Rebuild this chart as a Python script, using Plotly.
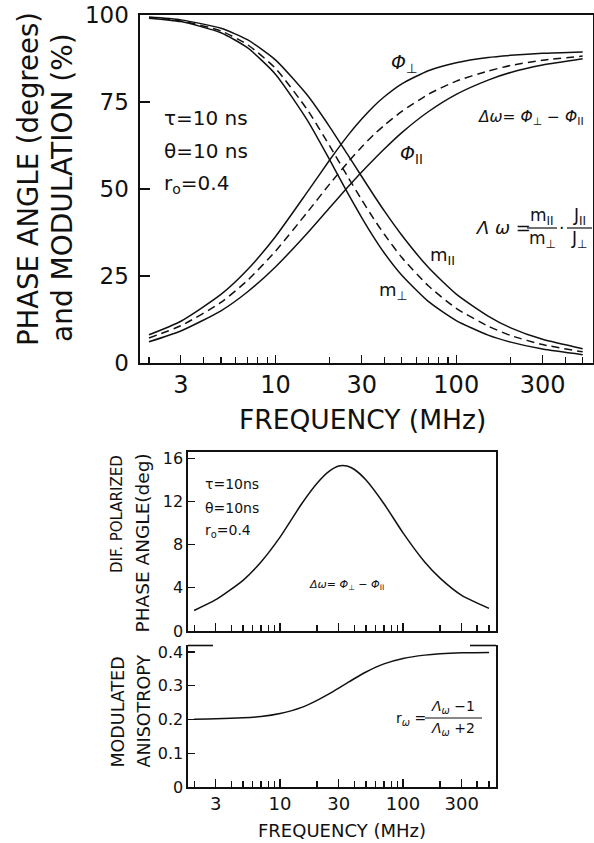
import plotly.graph_objects as go

W, H = 594, 843

# ---------------- data ----------------
freq = [2, 3, 5, 7, 10, 15, 20, 25, 30, 35, 40, 50, 70, 100, 150, 200, 300, 500]
phi_perp = [8.1, 12.0, 19.7, 26.8, 36.3, 49.1, 58.4, 65.2, 70.1, 73.8, 76.5, 80.2, 84.0, 86.3, 87.8, 88.4, 89.0, 89.4]
phi_par = [6.1, 9.2, 15.0, 20.4, 27.6, 37.3, 44.7, 50.4, 54.9, 58.5, 61.5, 66.2, 72.2, 77.2, 81.3, 83.5, 85.6, 87.4]
phi_avg = [7.2, 10.7, 17.4, 23.7, 32.1, 43.3, 51.5, 57.5, 62.1, 65.6, 68.3, 72.3, 77.2, 81.0, 83.9, 85.5, 87.0, 88.2]
mod_par = [99.4, 98.6, 96.2, 92.9, 87.1, 77.0, 67.8, 60.0, 53.6, 48.2, 43.7, 36.7, 27.5, 19.8, 13.5, 10.1, 6.8, 4.1]
mod_perp = [99.1, 98.1, 94.9, 90.6, 83.0, 69.8, 58.3, 49.0, 41.8, 36.1, 31.6, 25.2, 17.7, 12.2, 8.0, 6.0, 4.0, 2.4]
mod_avg = [99.2, 98.3, 95.4, 91.5, 84.7, 72.8, 62.3, 53.7, 46.9, 41.4, 37.0, 30.3, 22.2, 15.7, 10.6, 7.9, 5.3, 3.2]
dphase = [1.9, 2.9, 4.7, 6.4, 8.7, 11.8, 13.7, 14.8, 15.3, 15.3, 15.0, 14.0, 11.8, 9.1, 6.4, 4.9, 3.3, 2.1]
r_mod = [0.201, 0.202, 0.205, 0.209, 0.218, 0.236, 0.257, 0.276, 0.293, 0.308, 0.321, 0.341, 0.365, 0.381, 0.391, 0.395, 0.398, 0.399]

x_major = [3, 10, 30, 100, 300]
x_major_text = ["3", "10", "30", "100", "300"]
x_minor = [2, 4, 5, 6, 7, 8, 9, 20, 40, 50, 60, 70, 80, 90, 200, 400, 500]
y1_ticks = [0, 25, 50, 75, 100]
y2_ticks = [0, 4, 8, 12, 16]
y3_ticks = [0, 0.1, 0.2, 0.3, 0.4]
y3_text = ["0", "0.1", "0.2", "0.3", "0.4"]

FONT = "DejaVu Sans"
BLK = "#111111"


def px(x):
    return x / W


def py(y):
    return 1 - y / H


fig = go.Figure()

solid = dict(color=BLK, width=1.5, shape="spline", smoothing=0.6)
dashed = dict(color=BLK, width=1.5, dash="8px,5px", shape="spline", smoothing=0.6)

for ys, ln in [(phi_perp, solid), (phi_par, solid), (phi_avg, dashed),
               (mod_par, solid), (mod_perp, solid), (mod_avg, dashed)]:
    fig.add_trace(go.Scatter(x=freq, y=ys, mode="lines", line=ln,
                             xaxis="x", yaxis="y", showlegend=False, hoverinfo="skip"))

fig.add_trace(go.Scatter(x=freq, y=dphase, mode="lines", line=solid,
                         xaxis="x2", yaxis="y2", showlegend=False, hoverinfo="skip"))
fig.add_trace(go.Scatter(x=freq, y=r_mod, mode="lines", line=solid,
                         xaxis="x3", yaxis="y3", showlegend=False, hoverinfo="skip"))

xr = [0.2514, 2.756]


def xaxis(domain, labels, font_size, mirror, anchor):
    return dict(type="log", range=xr, domain=domain, anchor=anchor, automargin=False,
                showline=True, linecolor=BLK, linewidth=1.6, mirror=mirror,
                showgrid=False, zeroline=False,
                tickmode="array", tickvals=x_major,
                ticktext=x_major_text if labels else [""] * len(x_major),
                showticklabels=labels,
                ticks="inside", ticklen=8, tickwidth=1.2, tickcolor=BLK,
                tickfont=dict(family=FONT, size=font_size, color=BLK),
                minor=dict(tickmode="array", tickvals=x_minor, ticks="inside",
                           ticklen=6, tickwidth=1.2, tickcolor=BLK, showgrid=False))


def yaxis(domain, rng, vals, text, font_size, anchor, ticklen=9, standoff=0):
    return dict(range=rng, domain=domain, anchor=anchor, automargin=False,
                showline=True, linecolor=BLK, linewidth=1.6, mirror=True,
                showgrid=False, zeroline=False,
                tickmode="array", tickvals=vals, ticktext=text,
                ticks="inside", ticklen=ticklen, tickwidth=1.2, tickcolor=BLK,
                ticklabelstandoff=standoff,
                tickfont=dict(family=FONT, size=font_size, color=BLK))


fig.update_layout(
    width=W, height=H, margin=dict(l=0, r=0, t=0, b=0, pad=0, autoexpand=False),
    paper_bgcolor="white", plot_bgcolor="white",
    font=dict(family=FONT, color=BLK),
    xaxis=xaxis([px(140), px(593)], True, 24, True, "y"),
    yaxis=yaxis([py(363), py(15)], [0, 100], y1_ticks, [str(v) for v in y1_ticks], 23, "x", 10, 5),
    xaxis2=xaxis([px(188), px(496)], False, 17, True, "y2"),
    yaxis2=yaxis([py(631), py(452)], [0, 16.6], y2_ticks, [str(v) for v in y2_ticks], 16, "x2", 7, 0),
    xaxis3=xaxis([px(188), px(496)], True, 18, False, "y3"),
    yaxis3=yaxis([py(787), py(645)], [0, 0.421], y3_ticks, y3_text, 16, "x3", 7, 0),
)

# partial top border of bottom panel
for x0, x1 in [(188, 213), (470, 496)]:
    fig.add_shape(type="line", xref="paper", yref="paper",
                  x0=px(x0), x1=px(x1), y0=py(645.5), y1=py(645.5),
                  line=dict(color=BLK, width=1.6))

anns = []


def T(x, y, text, size, xanchor="center", yanchor="middle", angle=0):
    anns.append(dict(x=px(x), y=py(y), xref="paper", yref="paper", text=text,
                     showarrow=False, xanchor=xanchor, yanchor=yanchor, textangle=angle,
                     font=dict(family=FONT, size=size, color=BLK)))


PAR = "II"
PERP = "⊥"

# axis titles
T(28, 179, "PHASE ANGLE (degrees)", 27.5, angle=-90)
T(63, 188, "and MODULATION (%)", 28, angle=-90)
T(362, 420, "FREQUENCY (MHz)", 26.5)
T(117, 453, "DIF. POLARIZED", 15, yanchor="top", angle=-90)
T(142, 452, "PHASE ANGLE(deg)", 18.5, yanchor="top", angle=-90)
T(117, 770, "MODULATED", 17.5, yanchor="bottom", angle=-90)
T(143, 770, "ANISOTROPY", 17.5, yanchor="bottom", angle=-90)
T(342, 830, "FREQUENCY (MHz)", 18)

# top panel labels
T(162, 118, "τ=10 ns", 20, xanchor="left")
T(162, 151, "θ=10 ns", 20, xanchor="left")
T(162, 184, "r<sub>o</sub>=0.4", 20, xanchor="left")
T(405, 64, "<i>Φ</i><sub>" + PERP + "</sub>", 19)
T(412, 155, "<i>Φ</i><sub>" + PAR + "</sub>", 19)
T(476, 118, "<i>Δ</i><i>ω</i>= <i>Φ</i><sub>" + PERP + "</sub> − <i>Φ</i><sub>" + PAR + "</sub>",
  15.5, xanchor="left")
T(473, 227, "<i>Λ</i> <i>ω</i> =", 18, xanchor="left")
T(542, 216, "m<sub>" + PAR + "</sub>", 17)
T(542, 240, "m<sub>" + PERP + "</sub>", 17)
T(561, 228, "·", 17)
T(579, 216, "J<sub>" + PAR + "</sub>", 17)
T(579, 240, "J<sub>" + PERP + "</sub>", 17)
T(442, 256, "m<sub>" + PAR + "</sub>", 18)
T(393, 291, "m<sub>" + PERP + "</sub>", 18)
for x0, x1 in [(527, 557), (567, 592)]:
    fig.add_shape(type="line", xref="paper", yref="paper",
                  x0=px(x0), x1=px(x1), y0=py(228), y1=py(228),
                  line=dict(color=BLK, width=1.2))

# middle panel labels
T(203, 484, "τ=10ns", 14, xanchor="left")
T(203, 508, "θ=10ns", 14, xanchor="left")
T(203, 531, "r<sub>o</sub>=0.4", 14, xanchor="left")
T(307, 585, "<i>Δ</i><i>ω</i>= <i>Φ</i><sub>" + PERP + "</sub> − <i>Φ</i><sub>" + PAR + "</sub>",
  11, xanchor="left")

# bottom panel labels
T(394, 719, "r<sub><i>ω</i></sub> =", 14, xanchor="left")
T(453, 707, "<i>Λ</i><sub><i>ω</i></sub> −1", 14)
T(453, 729, "<i>Λ</i><sub><i>ω</i></sub> +2", 14)
fig.add_shape(type="line", xref="paper", yref="paper",
              x0=px(425), x1=px(482), y0=py(718), y1=py(718),
              line=dict(color=BLK, width=1.2))

fig.update_layout(annotations=anns)
fig.write_html(
    "out.html",
    config={"displayModeBar": False, "staticPlot": True},
    post_script="document.body.style.margin='0';document.body.style.padding='0';"
                "document.documentElement.style.overflow='hidden';",
)
